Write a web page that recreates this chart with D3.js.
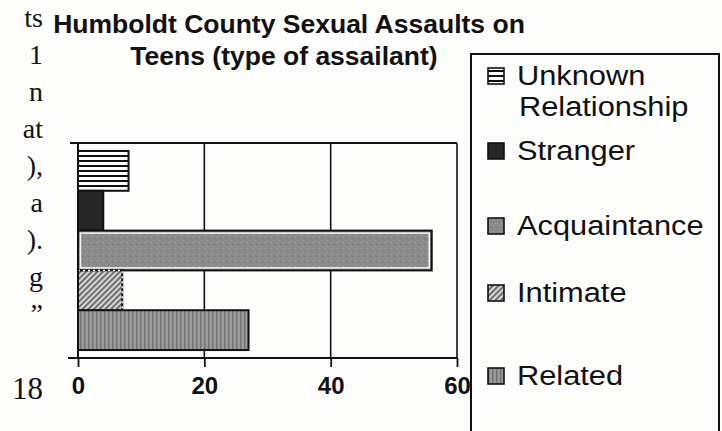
<!DOCTYPE html>
<html>
<head>
<meta charset="utf-8">
<script src="https://cdn.jsdelivr.net/npm/d3@7"></script>
<style>
  html, body { margin: 0; padding: 0; background: #fdfdfc; }
  svg { display: block; }
</style>
</head>
<body>
<div id="chart"></div>
<script>
// Assailant types, drawn top to bottom, and their counts
const categories = ["Unknown Relationship", "Stranger", "Acquaintance", "Intimate", "Related"];
const values = [8, 4, 56, 7, 27];
const legendLines = [["Unknown", "Relationship"], ["Stranger"], ["Acquaintance"], ["Intimate"], ["Related"]];
const xTicks = [0, 20, 40, 60];
const titleLines = ["Humboldt County Sexual Assaults on", "Teens (type of assailant)"];
// Line endings of the neighbouring page column and the page number
const marginText = ["ts", "1", "n", "at", "),", "a", ").", "g", "\u201D"];
const pageNumber = "18";

const W = 722, H = 431;
const svg = d3.select("#chart").append("svg").attr("width", W).attr("height", H);

const defs = svg.append("defs");
// horizontal stripes
const pH = defs.append("pattern").attr("id", "pUnknown").attr("patternUnits", "userSpaceOnUse")
  .attr("width", 6).attr("height", 5);
pH.append("rect").attr("width", 6).attr("height", 5).attr("fill", "#fff");
pH.append("rect").attr("y", 0).attr("width", 6).attr("height", 2).attr("fill", "#111");
// stippled grey
const pA = defs.append("pattern").attr("id", "pAcq").attr("patternUnits", "userSpaceOnUse")
  .attr("width", 6).attr("height", 6);
pA.append("rect").attr("width", 6).attr("height", 6).attr("fill", "#8a8a8a");
pA.append("rect").attr("x", 1).attr("y", 2).attr("width", 1).attr("height", 1).attr("fill", "#a8a8a8");
pA.append("rect").attr("x", 4).attr("y", 4).attr("width", 1).attr("height", 1).attr("fill", "#727272");
pA.append("rect").attr("x", 3).attr("y", 0).attr("width", 1).attr("height", 1).attr("fill", "#9c9c9c");
// diagonal hatch
const pI = defs.append("pattern").attr("id", "pInt").attr("patternUnits", "userSpaceOnUse")
  .attr("width", 4).attr("height", 4).attr("patternTransform", "rotate(45)");
pI.append("rect").attr("width", 4).attr("height", 4).attr("fill", "#d8d8d8");
pI.append("rect").attr("width", 2).attr("height", 4).attr("fill", "#6e6e6e");
// vertical stripes
const pR = defs.append("pattern").attr("id", "pRel").attr("patternUnits", "userSpaceOnUse")
  .attr("width", 4).attr("height", 8);
pR.append("rect").attr("width", 4).attr("height", 8).attr("fill", "#9a9a9a");
pR.append("rect").attr("width", 1.5).attr("height", 8).attr("fill", "#767676");

const fills = ["url(#pUnknown)", "#262626", "url(#pAcq)", "url(#pInt)", "url(#pRel)"];

const x = d3.scaleLinear().domain([0, 60]).range([78, 457]);
const y = d3.scaleBand().domain(categories).range([143, 358]).paddingInner(0).paddingOuter(0.2);

const plot = svg.append("g");

// gridlines
plot.selectAll("line.grid").data(xTicks.slice(1)).join("line")
  .attr("x1", d => x(d)).attr("x2", d => x(d))
  .attr("y1", 143).attr("y2", 358)
  .attr("stroke", "#111").attr("stroke-width", 1.6);

// plot border top
plot.append("line").attr("x1", 70).attr("x2", x(60)).attr("y1", 143).attr("y2", 143)
  .attr("stroke", "#111").attr("stroke-width", 2);

// bars
const bars = plot.selectAll("g.bar").data(categories).join("g");
bars.append("rect")
  .attr("x", x(0)).attr("y", d => y(d))
  .attr("width", (d, i) => x(values[i]) - x(0))
  .attr("height", y.bandwidth())
  .attr("fill", (d, i) => fills[i])
  .attr("stroke", "#111").attr("stroke-width", 2);
// white inner rim on acquaintance bar
bars.filter((d, i) => i === 2).append("rect")
  .attr("x", x(0) + 2.5).attr("y", d => y(d) + 2.5)
  .attr("width", x(values[2]) - x(0) - 5).attr("height", y.bandwidth() - 5)
  .attr("fill", "none").attr("stroke", "#f4f4f4").attr("stroke-width", 1.5);
// dashed rim on intimate bar
bars.filter((d, i) => i === 3).append("rect")
  .attr("x", x(0)).attr("y", d => y(d))
  .attr("width", x(values[3]) - x(0)).attr("height", y.bandwidth())
  .attr("fill", "none").attr("stroke", "#fff").attr("stroke-width", 1.5)
  .attr("stroke-dasharray", "2,3");

// x axis
const xAxis = d3.axisBottom(x).tickValues(xTicks).tickSize(9).tickPadding(10).tickFormat(d3.format("d"));
const ax = svg.append("g").attr("transform", "translate(0,358)").call(xAxis);
ax.select(".domain").remove();
ax.append("line").attr("x1", 68).attr("x2", x(60)).attr("y1", 0).attr("y2", 0)
  .attr("stroke", "#111").attr("stroke-width", 2);
ax.selectAll(".tick line").attr("stroke", "#111").attr("stroke-width", 1.8);
ax.selectAll(".tick text").attr("fill", "#111")
  .style("font-family", "'Liberation Sans', Arial, sans-serif")
  .style("font-weight", "bold").style("font-size", "24px");

// category axis line
svg.append("line").attr("x1", x(0)).attr("x2", x(0)).attr("y1", 143).attr("y2", 358)
  .attr("stroke", "#111").attr("stroke-width", 2);

// title
svg.selectAll("text.title").data(titleLines).join("text")
  .attr("x", (d, i) => i === 0 ? 289 : 284)
  .attr("y", (d, i) => 33 + i * 32)
  .attr("text-anchor", "middle")
  .attr("fill", "#111")
  .style("font-family", "'Liberation Sans', Arial, sans-serif")
  .style("font-weight", "bold").style("font-size", "26.5px")
  .text(d => d);

// legend
const lg = svg.append("g");
lg.append("rect").attr("x", 471).attr("y", 54).attr("width", 248).attr("height", 400)
  .attr("fill", "#fdfdfc").attr("stroke", "#111").attr("stroke-width", 2);
const legendY = [85, 160, 235, 302, 385];
const items = lg.selectAll("g.item").data(categories).join("g")
  .attr("transform", (d, i) => `translate(0,${legendY[i]})`);
items.append("rect").attr("x", 488).attr("y", -17).attr("width", 16).attr("height", 16)
  .attr("fill", (d, i) => fills[i]).attr("stroke", "#111").attr("stroke-width", 1.6);
// legend labels are set slightly wide, as in the printed chart
items.selectAll("text").data((d, i) => legendLines[i]).join("text")
  .attr("transform", (d, j) => `translate(${j === 0 ? 517 : 519},${j * 31}) scale(1.1,1)`)
  .attr("fill", "#111")
  .style("font-family", "'Liberation Sans', Arial, sans-serif")
  .style("font-size", "28px")
  .text(d => d);

// margin text of the neighbouring column
svg.selectAll("text.margin").data(marginText).join("text")
  .attr("x", 43).attr("y", (d, i) => 27 + i * 37)
  .attr("text-anchor", "end").attr("fill", "#111")
  .style("font-family", "'Liberation Serif', 'Times New Roman', serif")
  .style("font-size", "28px")
  .text(d => d);
svg.append("text").attr("x", 43).attr("y", 399).attr("text-anchor", "end").attr("fill", "#111")
  .style("font-family", "'Liberation Serif', 'Times New Roman', serif")
  .style("font-size", "31px")
  .text(pageNumber);
</script>
</body>
</html>
